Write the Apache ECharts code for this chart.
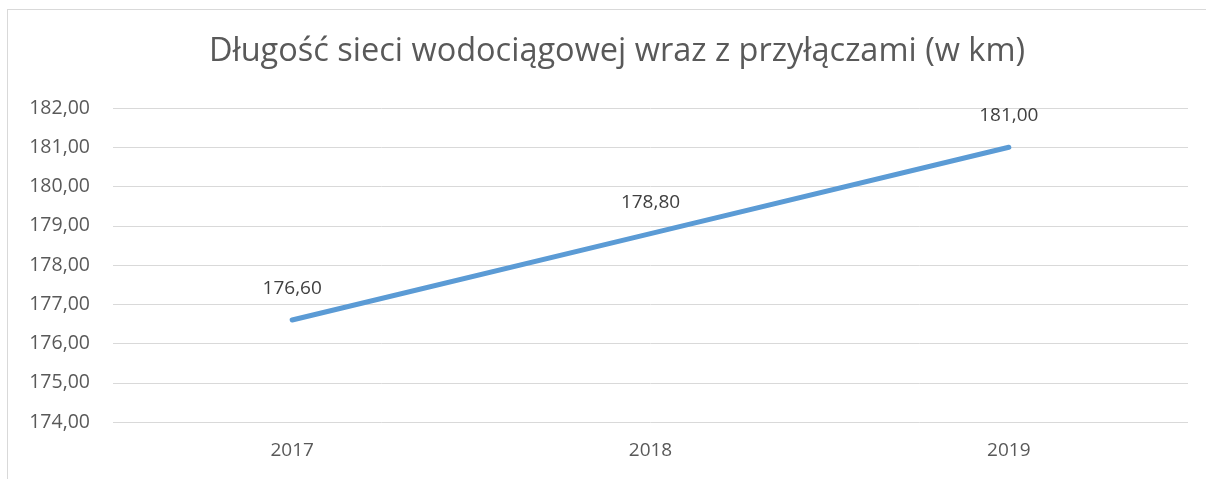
<!DOCTYPE html>
<html lang="pl">
<head>
	<meta charset="UTF-8">
	<script src="https://cdn.jsdelivr.net/npm/echarts@6/dist/echarts.min.js"></script>
	<title>Długość sieci wodociągowej</title>
	<style>
		html, body { margin: 0; padding: 0; background: #fff; }
		#frame { position: absolute; left: 7px; top: 9px; width: 1210px; height: 480px; border: 1px solid #d9d9d9; box-sizing: border-box; }
		#main { position: absolute; left: 0; top: 0; width: 1206px; height: 479px; }
	</style>
</head>
<body>
	<div id="frame"></div>
	<div id="main"></div>
	<script>
		var years = ['2017', '2018', '2019'];
		var lengthKm = [176.6, 178.8, 181.0];
		var yMin = 174;
		var yMax = 182;

		var fmt = function (v) { return v.toFixed(2).replace('.', ','); };
		var font = '"Open Sans", "Noto Sans", sans-serif';

		var chart = echarts.init(document.getElementById('main'));
		chart.setOption({
			animation: false,
			title: {
				text: 'Długość sieci wodociągowej wraz z przyłączami (w km)',
				left: 612,
				textAlign: 'center',
				top: 30,
				textStyle: { fontFamily: font, fontSize: 32.5, fontWeight: 'normal', color: '#595959' }
			},
			grid: { left: 113, right: 18, top: 108, bottom: 57 },
			xAxis: {
				type: 'category',
				data: years,
				boundaryGap: true,
				axisLine: { show: false },
				axisTick: { show: false },
				splitLine: { show: false },
				axisLabel: { fontFamily: font, fontSize: 19, color: '#595959', margin: 19 }
			},
			yAxis: {
				type: 'value',
				min: yMin,
				max: yMax,
				interval: 1,
				axisLine: { show: false },
				axisTick: { show: false },
				axisLabel: { fontFamily: font, fontSize: 19.5, color: '#595959', margin: 23, formatter: fmt },
				splitLine: { lineStyle: { color: '#d9d9d9', width: 1 } }
			},
			series: [{
				type: 'line',
				data: lengthKm,
				symbol: 'circle',
				symbolSize: 2,
				showSymbol: true,
				itemStyle: { color: '#5b9bd5' },
				lineStyle: { color: '#5b9bd5', width: 5, cap: 'round' },
				label: {
					show: true,
					position: 'top',
					distance: 21,
					fontFamily: font,
					fontSize: 19,
					color: '#404040',
					formatter: function (p) { return fmt(p.value); }
				}
			}]
		});
	</script>
</body>
</html>
